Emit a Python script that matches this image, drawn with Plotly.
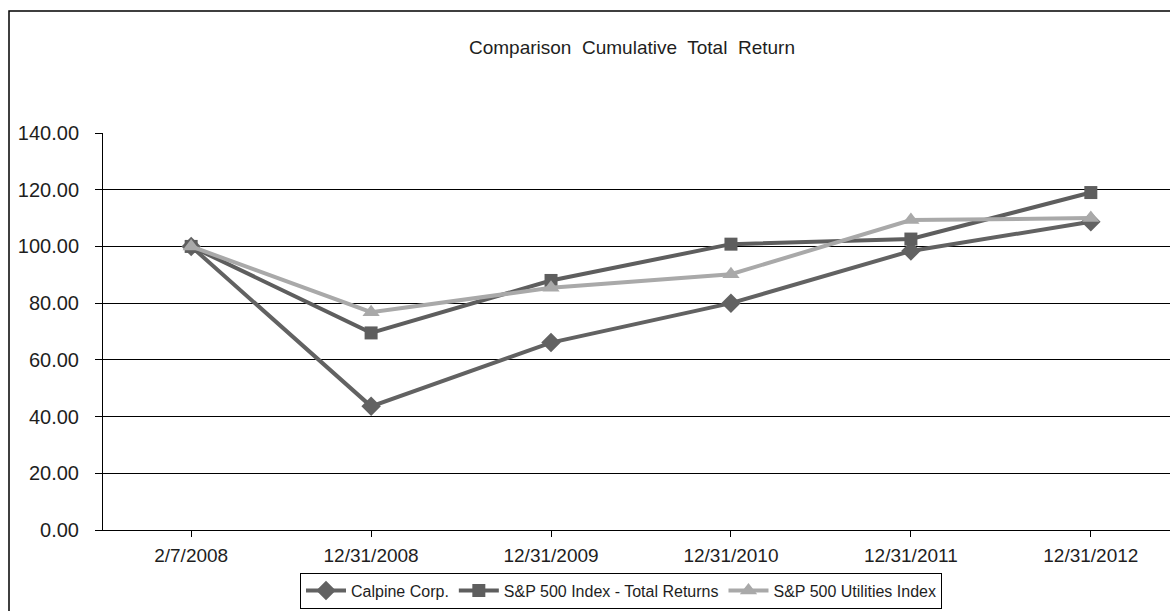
import plotly.graph_objects as go

categories = ["2/7/2008", "12/31/2008", "12/31/2009", "12/31/2010", "12/31/2011", "12/31/2012"]
calpine = [100.0, 43.6, 66.1, 80.0, 98.4, 108.7]
sp500 = [100.0, 69.5, 88.0, 100.8, 102.6, 119.0]
utilities = [100.0, 76.8, 85.4, 90.2, 109.3, 110.0]
y_ticks = [0, 20, 40, 60, 80, 100, 120, 140]

FONT = "Liberation Sans, Arial, sans-serif"
TXT = "#1e1e1e"

fig = go.Figure()
fig.add_trace(go.Scatter(
    x=categories, y=calpine, name="Calpine Corp.", mode="lines+markers",
    line=dict(color="#626262", width=4),
    marker=dict(symbol="diamond", size=15, color="#626262"),
))
fig.add_trace(go.Scatter(
    x=categories, y=sp500, name="S&P 500 Index - Total Returns", mode="lines+markers",
    line=dict(color="#5e5e5e", width=4),
    marker=dict(symbol="square", size=13, color="#5e5e5e"),
))
fig.add_trace(go.Scatter(
    x=categories, y=utilities, name="S&P 500 Utilities Index", mode="lines+markers",
    line=dict(color="#a9a9a9", width=4),
    marker=dict(symbol="triangle-up", size=15, color="#a9a9a9"),
))

fig.update_layout(
    width=1170, height=611,
    margin=dict(l=103, r=0, t=133, b=81, autoexpand=False),
    paper_bgcolor="white", plot_bgcolor="white",
    font=dict(family=FONT, size=19, color=TXT),
    showlegend=True,
    legend=dict(
        orientation="h", xref="container", yref="container",
        x=621 / 1170, xanchor="center", y=2.5 / 611, yanchor="bottom",
        bordercolor="black", borderwidth=1, bgcolor="white",
        font=dict(family=FONT, size=16, color=TXT),
        itemwidth=40,
    ),
    xaxis=dict(
        type="category", categoryorder="array", categoryarray=categories,
        range=[-0.49, 5.44], showgrid=False, showline=True, linecolor="black",
        linewidth=1, ticks="outside", ticklen=6, tickcolor="black",
        tickfont=dict(family=FONT, size=19, color=TXT), ticklabelstandoff=2,
        zeroline=False, automargin=False,
    ),
    yaxis=dict(
        range=[0, 140], tickvals=y_ticks, tickformat=".2f",
        showgrid=True, gridcolor="black", gridwidth=1,
        showline=True, linecolor="black", linewidth=1,
        ticks="outside", ticklen=7, tickcolor="black",
        tickfont=dict(family=FONT, size=20, color=TXT), ticklabelstandoff=12,
        zeroline=False, automargin=False,
    ),
    annotations=[dict(
        text="Comparison  Cumulative  Total  Return", xref="paper", yref="paper",
        x=(632 - 103) / 1067, y=(530 - 47) / 397, xanchor="center", yanchor="middle",
        showarrow=False, font=dict(family=FONT, size=19, color=TXT),
    )],
    shapes=[dict(
        type="rect", xref="paper", yref="paper",
        x0=(9 - 103) / 1067, x1=1.05, y0=-0.4, y1=(530 - 11) / 397,
        line=dict(color="black", width=1.5), fillcolor="rgba(0,0,0,0)", layer="below",
    )],
)

fig.write_html("out.html")
